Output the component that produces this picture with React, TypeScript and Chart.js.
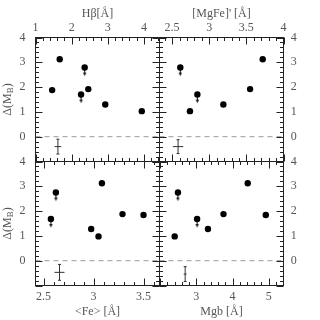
import React, { useEffect, useRef } from "react";
import { Chart, registerables } from "chart.js";
Chart.register(...registerables);

// ---- data ----
// Hβ panel (top-left)
const hbX = [1.46, 1.67, 2.36, 2.26, 2.46, 2.93, 3.94];
const hbY = [1.88, 3.12, 2.79, 1.7, 1.92, 1.3, 1.03];
const hbUpper = [0, 0, 1, 1, 0, 0, 0];
const hbErr = [1.62, -0.4, 0.09, 0.3]; // x, y, ±x, ±y
const hbTicks = [1, 2, 3, 4];

// [MgFe]' panel (top-right)
const mgfeX = [2.61, 2.74, 2.84, 3.19, 3.55, 3.72];
const mgfeY = [2.79, 1.03, 1.7, 1.3, 1.92, 3.12];
const mgfeUpper = [1, 0, 1, 0, 0, 0];
const mgfeErr = [2.58, -0.4, 0.07, 0.28];
const mgfeTicks = [2.5, 3, 3.5, 4];

// <Fe> panel (bottom-left)
const feX = [2.574, 2.624, 2.977, 3.05, 3.084, 3.29, 3.5];
const feY = [1.68, 2.75, 1.28, 0.98, 3.12, 1.88, 1.84];
const feUpper = [1, 1, 0, 0, 0, 0, 0];
const feErr = [2.66, -0.47, 0.05, 0.32];
const feTicks = [2.5, 3, 3.5];

// Mgb panel (bottom-right)
const mgbX = [2.4, 2.49, 3.02, 3.32, 3.75, 4.42, 4.92];
const mgbY = [0.98, 2.75, 1.68, 1.28, 1.88, 3.12, 1.84];
const mgbUpper = [0, 1, 1, 0, 0, 0, 0];
const mgbErr = [2.69, -0.54, 0.04, 0.3];
const mgbTicks = [3, 4, 5];

// Δ(M_B) axis, shared
const yMin = -1;
const yMax = 4;
const yTicks = [0, 1, 2, 3, 4];
const yMajor = 1;
const yMinor = 0.2;

const FONT = "Liberation Serif";
const TEXT = "#555";
const LINE = "#222";

type PanelDef = {
  xs: number[];
  ys: number[];
  upper: number[];
  err: number[];
  ticks: number[];
  xMin: number;
  xMax: number;
  xMajor: number;
  xMinor: number;
  xTitle: string;
  xPos: "top" | "bottom";
  yPos: "left" | "right";
  area: [number, number, number, number];
};

const panels: PanelDef[] = [
  { xs: hbX, ys: hbY, upper: hbUpper, err: hbErr, ticks: hbTicks, xMin: 1, xMax: 4.43, xMajor: 1, xMinor: 0.2, xTitle: "Hβ[Å]", xPos: "top", yPos: "left", area: [35.5, 37.5, 159.5, 161.5] },
  { xs: mgfeX, ys: mgfeY, upper: mgfeUpper, err: mgfeErr, ticks: mgfeTicks, xMin: 2.33, xMax: 4.0, xMajor: 0.5, xMinor: 0.1, xTitle: "[MgFe]' [Å]", xPos: "top", yPos: "right", area: [159.5, 37.5, 283.5, 161.5] },
  { xs: feX, ys: feY, upper: feUpper, err: feErr, ticks: feTicks, xMin: 2.42, xMax: 3.66, xMajor: 0.5, xMinor: 0.1, xTitle: "<Fe> [Å]", xPos: "bottom", yPos: "left", area: [35.5, 161.5, 159.5, 285.5] },
  { xs: mgbX, ys: mgbY, upper: mgbUpper, err: mgbErr, ticks: mgbTicks, xMin: 1.98, xMax: 5.41, xMajor: 1, xMinor: 0.2, xTitle: "Mgb [Å]", xPos: "bottom", yPos: "right", area: [159.5, 161.5, 283.5, 285.5] },
];

const W = 320;
const H = 320;

function makeArrow(): HTMLCanvasElement {
  const c = document.createElement("canvas");
  c.width = 7;
  c.height = 24;
  const g = c.getContext("2d")!;
  g.strokeStyle = "#111";
  g.fillStyle = "#111";
  g.lineWidth = 1;
  g.beginPath();
  g.moveTo(3.5, 12);
  g.lineTo(3.5, 18);
  g.stroke();
  g.beginPath();
  g.moveTo(1.8, 17);
  g.lineTo(5.2, 17);
  g.lineTo(3.5, 20.5);
  g.closePath();
  g.fill();
  return c;
}

function isMultiple(v: number, step: number) {
  const r = v / step;
  return Math.abs(r - Math.round(r)) < 1e-6;
}

function PanelChart({ p }: { p: PanelDef }) {
  const ref = useRef<HTMLCanvasElement | null>(null);
  useEffect(() => {
    if (!ref.current) return;
    const [L, T, R, B] = p.area;
    const dots = p.xs.map((x, i) => ({ x, y: p.ys[i] }));
    const arrows = p.xs
      .map((x, i) => ({ x, y: p.ys[i], u: p.upper[i] }))
      .filter((d) => d.u)
      .map((d) => ({ x: d.x, y: d.y }));
    const [ex, ey, edx, edy] = p.err;
    const errV = [
      { x: ex, y: ey - edy },
      { x: ex, y: ey + edy },
    ];
    const errH = [
      { x: ex - edx, y: ey },
      { x: ex + edx, y: ey },
    ];
    const zero = [
      { x: p.xMin, y: 0 },
      { x: p.xMax, y: 0 },
    ];

    const framePlugin = {
      id: "frame" + p.xPos + p.yPos,
      afterDraw(chart: any) {
        const ctx = chart.ctx;
        const a = chart.chartArea;
        const xs = chart.scales.x;
        const ys = chart.scales.y;
        ctx.save();
        ctx.strokeStyle = LINE;
        ctx.lineWidth = 1;
        ctx.strokeRect(a.left, a.top, a.right - a.left, a.bottom - a.top);
        ctx.beginPath();
        const n0 = Math.ceil(p.xMin / p.xMinor - 1e-6);
        const n1 = Math.floor(p.xMax / p.xMinor + 1e-6);
        for (let n = n0; n <= n1; n++) {
          const v = n * p.xMinor;
          const px = Math.round(xs.getPixelForValue(v)) + 0.5;
          const len = isMultiple(v, p.xMajor) ? 7 : 3.5;
          ctx.moveTo(px, a.top);
          ctx.lineTo(px, a.top + len);
          ctx.moveTo(px, a.bottom);
          ctx.lineTo(px, a.bottom - len);
        }
        const m0 = Math.ceil(yMin / yMinor - 1e-6);
        const m1 = Math.floor(yMax / yMinor + 1e-6);
        for (let n = m0; n <= m1; n++) {
          const v = n * yMinor;
          const py = Math.round(ys.getPixelForValue(v)) + 0.5;
          const len = isMultiple(v, yMajor) ? 7 : 3.5;
          ctx.moveTo(a.left, py);
          ctx.lineTo(a.left + len, py);
          ctx.moveTo(a.right, py);
          ctx.lineTo(a.right - len, py);
        }
        ctx.stroke();
        if (p.yPos === "left") {
          const cy = (a.top + a.bottom) / 2;
          ctx.translate(8, cy);
          ctx.rotate(-Math.PI / 2);
          ctx.fillStyle = TEXT;
          ctx.textBaseline = "middle";
          const big = `12px "${FONT}"`;
          const small = `9px "${FONT}"`;
          ctx.font = big;
          const w1 = ctx.measureText("Δ(M").width;
          const w3 = ctx.measureText(")").width;
          ctx.font = small;
          const w2 = ctx.measureText("B").width;
          const sx = -(w1 + w2 + w3) / 2;
          ctx.font = big;
          ctx.fillText("Δ(M", sx, 0);
          ctx.font = small;
          ctx.fillText("B", sx + w1, 3);
          ctx.font = big;
          ctx.fillText(")", sx + w1 + w2, 0);
        }
        ctx.restore();
      },
    };

    const font = { family: FONT, size: 12 };
    const xAxisH = p.xPos === "top" ? T : H - B;
    const yAxisW = p.yPos === "left" ? L : W - R;
    const padding = {
      left: p.yPos === "left" ? 0 : L,
      right: p.yPos === "left" ? W - R : 0,
      top: p.xPos === "top" ? 0 : T,
      bottom: p.xPos === "top" ? H - B : 0,
    };

    const chart = new Chart(ref.current, {
      type: "scatter",
      data: {
        datasets: [
          { data: dots, backgroundColor: "#000", borderColor: "#000", borderWidth: 0, pointRadius: 3.2 },
          { data: arrows, pointStyle: makeArrow() as any, pointRadius: 5 },
          { data: errV, showLine: true, borderColor: "#333", borderWidth: 1, pointStyle: "line", pointRadius: 1.5, pointBorderColor: "#333", pointBorderWidth: 1 },
          { data: errH, showLine: true, borderColor: "#333", borderWidth: 1, pointRadius: 0 },
          { data: zero, showLine: true, borderColor: "#999", borderWidth: 1, borderDash: [5, 4], pointRadius: 0 },
        ] as any,
      },
      options: {
        animation: false,
        responsive: false,
        events: [],
        layout: { padding },
        plugins: { legend: { display: false }, tooltip: { enabled: false } },
        scales: {
          x: {
            type: "linear",
            position: p.xPos,
            min: p.xMin,
            max: p.xMax,
            grid: { display: false, drawTicks: false },
            border: { display: false },
            afterBuildTicks: (s: any) => {
              s.ticks = p.ticks.map((v) => ({ value: v }));
            },
            ticks: {
              padding: p.xPos === "top" ? 2.3 : 3.8,
              font,
              color: TEXT,
              maxRotation: 0,
              autoSkip: false,
              callback: (v: any) => String(v),
            },
            title: {
              display: true,
              text: p.xTitle,
              font,
              color: TEXT,
              padding: p.xPos === "top" ? { top: 6.8, bottom: 0 } : { top: 0, bottom: 1.1 },
            },
            afterFit: (s: any) => {
              s.height = xAxisH;
            },
          },
          y: {
            type: "linear",
            position: p.yPos,
            min: yMin,
            max: yMax,
            grid: { display: false, drawTicks: false },
            border: { display: false },
            afterBuildTicks: (s: any) => {
              s.ticks = yTicks.map((v) => ({ value: v }));
            },
            ticks: {
              padding: p.yPos === "left" ? 10 : 7.2,
              font,
              color: TEXT,
              autoSkip: false,
              callback: (v: any) => String(v),
            },
            afterFit: (s: any) => {
              s.width = yAxisW;
            },
          },
        } as any,
      },
      plugins: [framePlugin],
    });
    return () => chart.destroy();
  }, [p]);
  return (
    <canvas
      ref={ref}
      width={W}
      height={H}
      style={{ position: "absolute", left: 0, top: 0, width: W, height: H }}
    />
  );
}

export default function App() {
  return (
    <div style={{ position: "absolute", left: 0, top: 0, width: W, height: H, background: "#fff" }}>
      {panels.map((p, i) => (
        <PanelChart key={i} p={p} />
      ))}
    </div>
  );
}
